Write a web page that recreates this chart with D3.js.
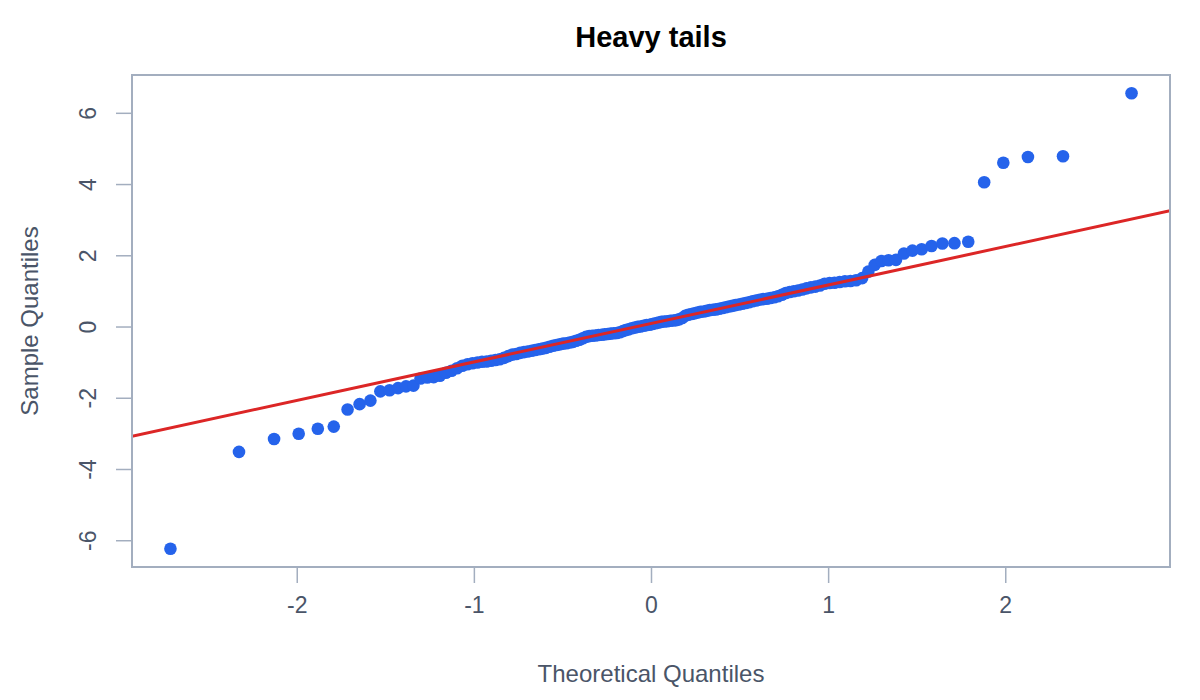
<!DOCTYPE html>
<html>
<head>
<meta charset="utf-8">
<script src="https://cdn.jsdelivr.net/npm/d3@7/dist/d3.min.js"></script>
<style>
  html, body { margin: 0; padding: 0; background: #ffffff; }
  svg { display: block; }
</style>
</head>
<body>
<div id="chart"></div>
<script>
// ---------- data ----------
const chartTitle = "Heavy tails";
const xLabel = "Theoretical Quantiles";
const yLabel = "Sample Quantiles";

// theoretical normal quantiles (n = 150), lower half; upper half mirrors it
const theoreticalLower = [
  -2.713, -2.326, -2.128, -1.989, -1.881, -1.791, -1.713, -1.645, -1.584, -1.528,
  -1.476, -1.428, -1.383, -1.341, -1.301, -1.263, -1.227, -1.192, -1.158, -1.126,
  -1.095, -1.065, -1.036, -1.008, -0.980, -0.954, -0.928, -0.903, -0.878, -0.854,
  -0.830, -0.806, -0.783, -0.761, -0.739, -0.717, -0.696, -0.674, -0.654, -0.633,
  -0.613, -0.593, -0.573, -0.553, -0.534, -0.515, -0.496, -0.477, -0.459, -0.440,
  -0.422, -0.404, -0.385, -0.367, -0.349, -0.332, -0.314, -0.297, -0.279, -0.262,
  -0.245, -0.228, -0.210, -0.193, -0.176, -0.159, -0.143, -0.126, -0.109, -0.092,
  -0.075, -0.059, -0.042, -0.025, -0.008
];
const theoreticalUpper = [
  0.008, 0.025, 0.042, 0.059, 0.075, 0.092, 0.109, 0.126, 0.143, 0.159,
  0.176, 0.193, 0.210, 0.228, 0.245, 0.262, 0.279, 0.297, 0.314, 0.332,
  0.349, 0.367, 0.385, 0.404, 0.422, 0.440, 0.459, 0.477, 0.496, 0.515,
  0.534, 0.553, 0.573, 0.593, 0.613, 0.633, 0.654, 0.674, 0.696, 0.717,
  0.739, 0.761, 0.783, 0.806, 0.830, 0.854, 0.878, 0.903, 0.928, 0.954,
  0.980, 1.008, 1.036, 1.065, 1.095, 1.126, 1.158, 1.192, 1.227, 1.263,
  1.301, 1.341, 1.383, 1.428, 1.476, 1.528, 1.584, 1.645, 1.713, 1.791,
  1.881, 1.989, 2.128, 2.326, 2.713
];

// sorted sample values
const sampleLower = [
  -6.24, -3.52, -3.16, -3.01, -2.87, -2.81, -2.33, -2.18, -2.08, -1.82,
  -1.79, -1.73, -1.68, -1.66, -1.46, -1.43, -1.42, -1.38, -1.30, -1.24,
  -1.17, -1.10, -1.06, -1.03, -1.01, -0.99, -0.98, -0.96, -0.94, -0.92,
  -0.88, -0.83, -0.79, -0.77, -0.74, -0.72, -0.70, -0.68, -0.66, -0.64,
  -0.62, -0.60, -0.57, -0.54, -0.52, -0.50, -0.48, -0.47, -0.45, -0.43,
  -0.40, -0.37, -0.33, -0.29, -0.27, -0.26, -0.25, -0.24, -0.23, -0.22,
  -0.21, -0.20, -0.19, -0.18, -0.16, -0.13, -0.10, -0.08, -0.05, -0.03,
  -0.01, 0.00, 0.02, 0.04, 0.05
];
const sampleUpper = [
  0.07, 0.09, 0.11, 0.13, 0.14, 0.15, 0.16, 0.17, 0.18, 0.20,
  0.24, 0.30, 0.33, 0.35, 0.37, 0.39, 0.41, 0.42, 0.44, 0.46,
  0.47, 0.48, 0.50, 0.52, 0.54, 0.56, 0.58, 0.60, 0.62, 0.64,
  0.66, 0.68, 0.71, 0.73, 0.75, 0.77, 0.78, 0.80, 0.82, 0.85,
  0.89, 0.94, 0.97, 0.99, 1.01, 1.04, 1.07, 1.10, 1.12, 1.15,
  1.20, 1.22, 1.23, 1.25, 1.27, 1.28, 1.30, 1.36, 1.54, 1.73,
  1.84, 1.86, 1.87, 2.05, 2.13, 2.17, 2.26, 2.33, 2.34, 2.38,
  4.05, 4.60, 4.76, 4.78, 6.55
];

// reference line through the quartiles (intercept, slope)
const qqIntercept = 0.085;
const qqSlope = 1.08;

const xTicks = [-2, -1, 0, 1, 2];
const yTicks = [-6, -4, -2, 0, 2, 4, 6];

// ---------- build ----------
const theoretical = theoreticalLower.concat(theoreticalUpper);
const sample = sampleLower.concat(sampleUpper);
const points = theoretical.map((q, i) => ({ q, v: sample[i] }));

const W = 1200, H = 700;
const plot = { left: 132, right: 1170, top: 75, bottom: 567 };

function padded(ext) {
  const d = (ext[1] - ext[0]) * 0.04;
  return [ext[0] - d, ext[1] + d];
}

const x = d3.scaleLinear().domain(padded(d3.extent(theoretical))).range([plot.left, plot.right]);
const y = d3.scaleLinear().domain(padded(d3.extent(sample))).range([plot.bottom, plot.top]);

const axisColor = "#a3aebf";
const textColor = "#4a5568";
const font = "'Liberation Sans', Arial, Helvetica, sans-serif";
const fmt = d => String(d);

const svg = d3.select("#chart").append("svg")
  .attr("width", W).attr("height", H)
  .attr("font-family", font);

svg.append("defs").append("clipPath").attr("id", "clip")
  .append("rect")
  .attr("x", plot.left).attr("y", plot.top)
  .attr("width", plot.right - plot.left).attr("height", plot.bottom - plot.top);

// points
svg.append("g").attr("clip-path", "url(#clip)")
  .selectAll("circle").data(points).join("circle")
  .attr("cx", d => x(d.q))
  .attr("cy", d => y(d.v))
  .attr("r", 6.3)
  .attr("fill", "#2563eb");

// qq line
const xd = x.domain();
svg.append("g").attr("clip-path", "url(#clip)")
  .append("line")
  .attr("x1", x(xd[0])).attr("y1", y(qqIntercept + qqSlope * xd[0]))
  .attr("x2", x(xd[1])).attr("y2", y(qqIntercept + qqSlope * xd[1]))
  .attr("stroke", "#dc2626").attr("stroke-width", 3);

// frame
svg.append("rect")
  .attr("x", plot.left).attr("y", plot.top)
  .attr("width", plot.right - plot.left).attr("height", plot.bottom - plot.top)
  .attr("fill", "none").attr("stroke", axisColor).attr("stroke-width", 2);

// x axis
const xAxis = svg.append("g")
  .attr("transform", `translate(0,${plot.bottom})`)
  .call(d3.axisBottom(x).tickValues(xTicks).tickSize(16).tickPadding(14).tickFormat(fmt));
xAxis.select(".domain").remove();
xAxis.selectAll(".tick line").attr("stroke", axisColor).attr("stroke-width", 1.5);
xAxis.selectAll(".tick text").attr("fill", textColor).attr("font-size", 23).attr("font-family", font);

// y axis
const yAxis = svg.append("g")
  .attr("transform", `translate(${plot.left},0)`)
  .call(d3.axisLeft(y).tickValues(yTicks).tickSize(16).tickFormat(fmt));
yAxis.select(".domain").remove();
yAxis.selectAll(".tick line").attr("stroke", axisColor).attr("stroke-width", 1.5);
yAxis.selectAll(".tick text")
  .attr("fill", textColor).attr("font-size", 23).attr("font-family", font)
  .attr("x", null).attr("dy", null)
  .attr("text-anchor", "middle")
  .attr("transform", "translate(-36,0) rotate(-90)");

// title
svg.append("text")
  .attr("x", (plot.left + plot.right) / 2).attr("y", 47)
  .attr("text-anchor", "middle")
  .attr("font-size", 29).attr("font-weight", "bold").attr("fill", "#000")
  .text(chartTitle);

// axis labels
svg.append("text")
  .attr("x", (plot.left + plot.right) / 2).attr("y", 682)
  .attr("text-anchor", "middle")
  .attr("font-size", 24).attr("fill", textColor)
  .text(xLabel);

svg.append("text")
  .attr("transform", `translate(38,${(plot.top + plot.bottom) / 2}) rotate(-90)`)
  .attr("text-anchor", "middle")
  .attr("font-size", 24).attr("fill", textColor)
  .text(yLabel);
</script>
</body>
</html>
